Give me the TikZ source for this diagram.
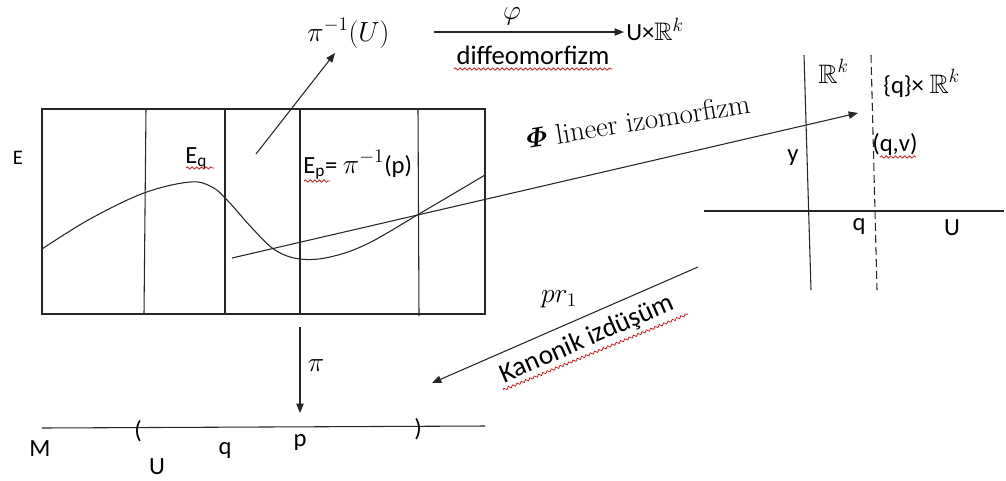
\documentclass[tikz,border=0pt]{standalone}
\usepackage{amsmath,amssymb}
\usepackage{fontspec}
\setsansfont{Carlito}
\usetikzlibrary{arrows.meta,decorations.pathmorphing}
\begin{document}
\begin{tikzpicture}[x=0.75pt,y=-0.75pt,
  ln/.style={line width=0.8pt,black!85},
  arr/.style={ln,-{Triangle[length=7pt,width=5.5pt]}},
  lbl/.style={font=\sffamily\fontsize{18.5}{22}\selectfont,inner sep=0pt},
  mlbl/.style={font=\fontsize{21.5}{25}\selectfont,inner sep=0pt},
  squig/.style={red!85!black,line width=0.5pt,decorate,decoration={snake,amplitude=0.9pt,segment length=3.5pt}}]
\useasboundingbox (0,0) rectangle (1006,480);
% total space E
\draw[ln] (42,109) rectangle (485,314);
\draw[ln] (146,109) -- (144,314);
\draw[ln] (225,109) -- (225,314);
\draw[ln] (300,109) -- (300,314);
\draw[ln] (418,109) -- (419,316);
% section curve
\draw[ln] plot[smooth,tension=0.6] coordinates {(42,249) (90,219) (144,193) (190,182) (212,187) (228,201) (252,228) (275,250) (300,259) (330,257) (367,244) (419,214) (485,175)};
% linear map arrow
\coordinate (phiS) at (232,258);
\coordinate (phiT) at (858,113);
\draw[arr] (phiS) -- (phiT);
% arrow up to pi^{-1}(U)
\coordinate (upS) at (256,154);
\coordinate (upT) at (335,53);
\draw[arr] (upS) -- (upT);
% labels on E
\node[lbl,font=\sffamily\fontsize{15.5}{18}\selectfont] (E) at (18,158) {E};
\node[lbl,anchor=base west] (Eq) at (185,163) {E\textsubscript{q}};
\node[lbl,anchor=base west] (Ep) at (303,173) {E\textsubscript{p}= {\fontsize{22}{25}\selectfont$\pi^{-1}$}(p)};
\draw[squig] (186,168) -- (214,168);
\draw[squig] (304,181) -- (330,181);
% top row
\node[mlbl,anchor=base west] (piU) at (307,41) {$\pi^{-1}(U)$};
\coordinate (a1) at (434,32);
\coordinate (a2) at (624,32);
\draw[arr] (a1) -- (a2);
\node[mlbl,anchor=base] (phi) at (512,19) {$\varphi$};
\node[lbl,font=\sffamily\fontsize{20}{23}\selectfont,anchor=base] (diff) at (533,64) {diffeomorfizm};
\draw[squig] (454,69) -- (612,69);
\node[lbl,anchor=base west] (UR) at (626,40) {U×{\fontsize{19}{22}\selectfont$\mathbb{R}^k$}};
% Phi label
\node[font=\fontsize{21.5}{25}\selectfont,inner sep=0pt,rotate=9.2] (Phi) at (638,121) {$\boldsymbol{\varPhi}$ lineer izomorfizm};
% right coordinate system
\coordinate (h1) at (704,211);
\coordinate (h2) at (1004,211);
\draw[ln] (h1) -- (h2);
\coordinate (v1) at (804,55);
\coordinate (v2) at (811,290);
\draw[ln] (v1) -- (v2);
\coordinate (d1) at (871,55);
\coordinate (d2) at (877,290);
\draw[ln,dash pattern=on 6pt off 3pt] (d1) -- (d2);
\node[font=\fontsize{20}{23}\selectfont,inner sep=0pt,anchor=base west] (Rk) at (818,83) {$\mathbb{R}^k$};
\node[lbl,anchor=base west] (qRk) at (883,93) {\{q\}× {\fontsize{20}{23}\selectfont$\mathbb{R}^k$}};
\node[lbl,anchor=base west] (qv) at (872,151) {(q,v)};
\draw[squig] (880,157) -- (916,157);
\node[lbl] (y) at (793,158) {y};
\node[lbl] (q2) at (859,226) {q};
\node[lbl] (U2) at (952,228) {U};
% projection arrow
\coordinate (p1) at (698,267);
\coordinate (p2) at (432,383);
\draw[arr] (p1) -- (p2);
\node[mlbl] (pr) at (559,299) {$pr_1$};
\node[lbl,font=\sffamily\fontsize{20.5}{23}\selectfont,rotate=23.5,anchor=base] (kan) at (590,346) {Kanonik izdüşüm};
\draw[squig] (503,390) -- (688,314);
% base M
\coordinate (m1) at (42,428);
\coordinate (m2) at (485,426);
\draw[ln] (m1) -- (m2);
\coordinate (pi1) at (300,327);
\coordinate (pi2) at (300,413);
\draw[arr] (pi1) -- (pi2);
\node[font=\fontsize{21}{24}\selectfont,inner sep=0pt] (pi) at (316,366) {$\pi$};
\node[lbl] (lp) at (138,431) {(};
\node[lbl] (rp) at (418,429) {)};
\node[lbl] (M) at (40,449) {M};
\node[lbl,anchor=base] (U1) at (157,474) {U};
\node[lbl] (q1) at (225,450) {q};
\node[lbl] (p) at (300,442) {p};
\end{tikzpicture}
\end{document}
